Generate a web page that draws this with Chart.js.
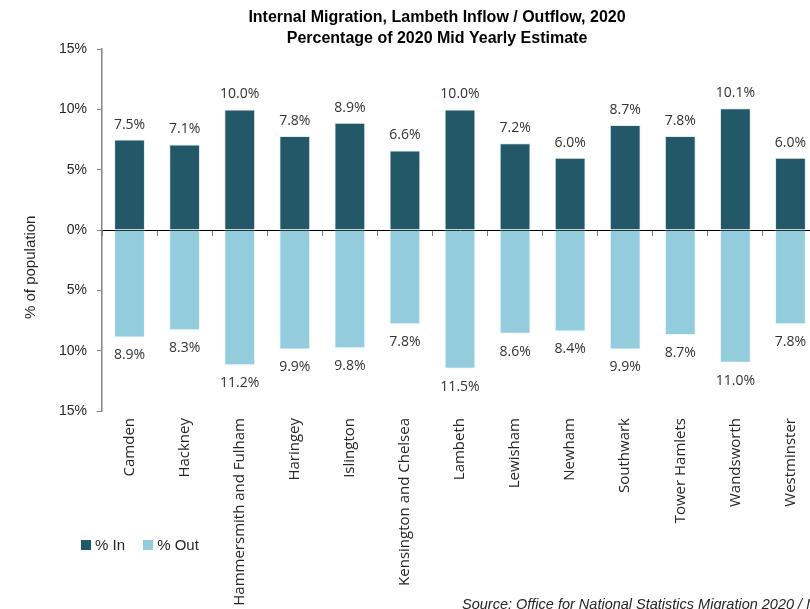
<!DOCTYPE html>
<html>
<head>
<meta charset="utf-8">
<script src="https://cdn.jsdelivr.net/npm/chart.js@4"></script>
<style>
    body { margin: 0; overflow: hidden; background: #fff; }
    #wrap { position: relative; width: 810px; height: 609px; overflow: hidden; }
    canvas { position: absolute; left: 0; top: 0; }
    .ytitle {
        position: absolute; left: 21px; top: 208px; height: 118px;
        writing-mode: vertical-rl; transform: rotate(180deg);
        text-align: center; line-height: 18px;
        font: 15px 'Liberation Sans', Arial, sans-serif; color: #262626; white-space: nowrap;
    }
    .legend {
        position: absolute; left: 81px; top: 536px;
        font: 15px 'Liberation Sans', Arial, sans-serif; color: #262626; white-space: nowrap;
    }
    .legend span.box { display: inline-block; width: 10px; height: 10px; margin-right: 4px; vertical-align: 0px; }
    .legend span.item { margin-right: 14px; }
    .source {
        position: absolute; left: 462px; top: 596px;
        font: italic 14.5px 'Liberation Sans', Arial, sans-serif; color: #262626; white-space: nowrap;
    }
</style>
</head>
<body>
<div id="wrap">
    <canvas id="chart" width="880" height="640"></canvas>
    <div class="ytitle">% of population</div>
    <div class="legend">
        <span class="item"><span class="box" style="background:#235868"></span>% In</span>
        <span class="item"><span class="box" style="background:#93cddd"></span>% Out</span>
    </div>
    <div class="source">Source: Office for National Statistics Migration 2020 / Mid Year Estimates</div>
</div>
<script>
// 行政区
const boroughs = ['Camden', 'Hackney', 'Hammersmith and Fulham', 'Haringey', 'Islington',
    'Kensington and Chelsea', 'Lambeth', 'Lewisham', 'Newham', 'Southwark',
    'Tower Hamlets', 'Wandsworth', 'Westminster'];
// 流入 / 流出 (% of population)
const inValues = [7.5, 7.1, 10.0, 7.8, 8.9, 6.6, 10.0, 7.2, 6.0, 8.7, 7.8, 10.1, 6.0];
const outValues = [8.9, 8.3, 11.2, 9.9, 9.8, 7.8, 11.5, 8.6, 8.4, 9.9, 8.7, 11.0, 7.8];
const yTicks = [-15, -10, -5, 0, 5, 10, 15];

const labelFont = "'Open Sans', 'DejaVu Sans', sans-serif";
const mainFont = "'Liberation Sans', Arial, sans-serif";

// 柱子上的数值标签
const valueLabels = {
    id: 'valueLabels',
    afterDatasetsDraw(chart) {
        const ctx = chart.ctx;
        ctx.save();
        ctx.font = '14px ' + labelFont;
        ctx.fillStyle = '#333';
        ctx.textAlign = 'center';
        ctx.textBaseline = 'middle';
        chart.data.datasets.forEach((ds, i) => {
            const meta = chart.getDatasetMeta(i);
            meta.data.forEach((bar, j) => {
                const v = ds.data[j];
                const txt = Math.abs(v).toFixed(1) + '%';
                if (v >= 0) ctx.fillText(txt, bar.x, bar.y - 15);
                else ctx.fillText(txt, bar.x, bar.y + 18);
            });
        });
        ctx.restore();
    }
};

const ctx = document.getElementById('chart').getContext('2d');
new Chart(ctx, {
    type: 'bar',
    data: {
        labels: boroughs,
        datasets: [
            {
                label: '% In',
                data: inValues,
                backgroundColor: '#235868',
                borderColor: 'rgba(210,230,236,0.7)',
                borderWidth: 1,
                borderSkipped: 'bottom'
            },
            {
                label: '% Out',
                data: outValues.map(v => -v),
                backgroundColor: '#93cddd',
                borderColor: 'rgba(235,245,248,0.9)',
                borderWidth: 1
            }
        ]
    },
    options: {
        responsive: false,
        animation: false,
        devicePixelRatio: 1,
        layout: { padding: { left: 56, right: 62, top: 0, bottom: 0 } },
        datasets: {
            bar: { barPercentage: 0.56, categoryPercentage: 1.0 }
        },
        plugins: {
            legend: { display: false },
            tooltip: { enabled: false },
            title: {
                display: true,
                text: ['Internal Migration, Lambeth Inflow / Outflow, 2020', 'Percentage of 2020 Mid Yearly Estimate'],
                color: '#000',
                font: { family: mainFont, size: 16, weight: 'bold', lineHeight: 1.3 },
                padding: { top: 7, bottom: 0.5 }
            }
        },
        scales: {
            x: {
                stacked: true,
                grid: { display: false, drawTicks: false },
                border: { display: false },
                ticks: {
                    minRotation: 90,
                    maxRotation: 90,
                    autoSkip: false,
                    padding: 7,
                    color: '#262626',
                    font: { family: labelFont, size: 15 }
                },
                afterFit(scale) { scale.height = 229; }
            },
            x0: {
                type: 'category',
                axis: 'x',
                position: { y: 0 },
                grid: {
                    display: true,
                    drawOnChartArea: false,
                    drawTicks: true,
                    tickLength: 5,
                    offset: true,
                    color: '#7f7f7f'
                },
                border: { display: true, color: '#000', width: 1 },
                ticks: { display: false },
                afterFit(scale) { scale.height = 0; }
            },
            y: {
                stacked: true,
                min: -15,
                max: 15,
                afterBuildTicks(scale) { scale.ticks = yTicks.map(v => ({ value: v })); },
                grid: { drawOnChartArea: false, tickLength: 5, color: '#868686' },
                border: { display: true, color: '#868686', width: 1.5 },
                ticks: {
                    padding: 10,
                    color: '#262626',
                    font: { family: mainFont, size: 14 },
                    callback: v => Math.abs(v) + '%'
                },
                afterFit(scale) { scale.width = 46; }
            }
        }
    },
    plugins: [valueLabels]
});
</script>
</body>
</html>
